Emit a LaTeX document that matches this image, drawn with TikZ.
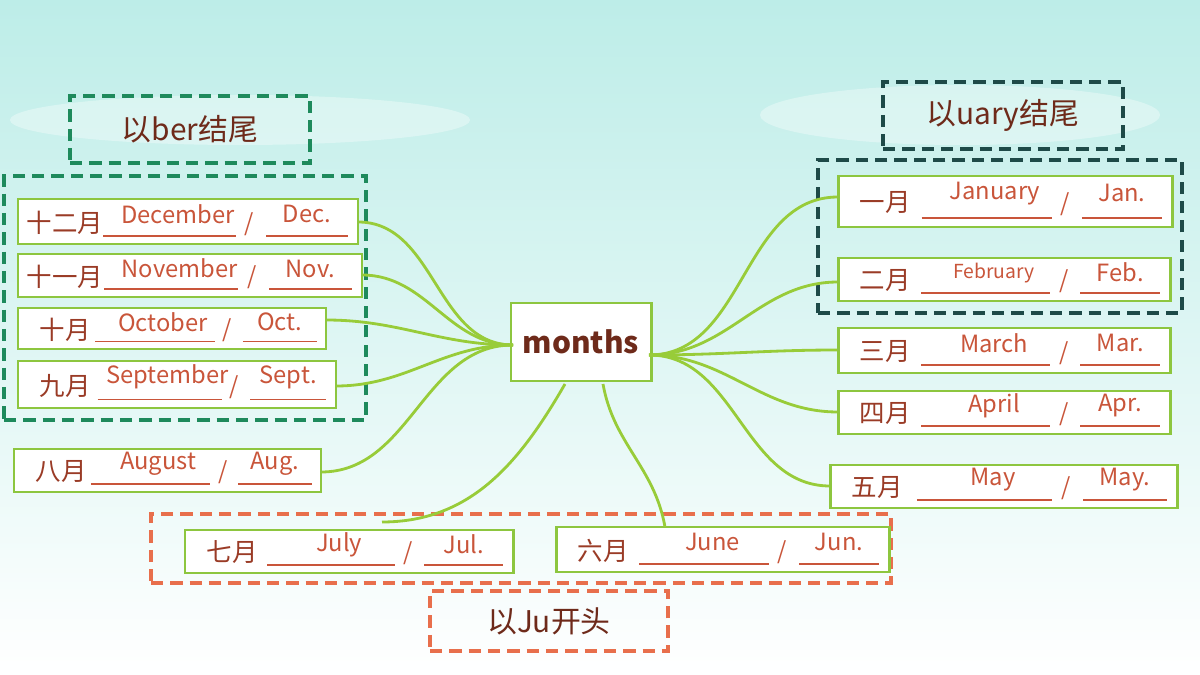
\documentclass[tikz,border=0pt]{standalone}
\usepackage{fontspec}
\setmainfont{Noto Sans CJK SC}
\usetikzlibrary{fit}
\definecolor{boxgreen}{HTML}{8DC63F}
\definecolor{wordred}{HTML}{C9553A}
\definecolor{cnred}{HTML}{9A3B26}
\definecolor{titlebrown}{HTML}{6E2A1A}
\definecolor{grpgreen}{HTML}{1E8A5C}
\definecolor{grpteal}{HTML}{1E4A48}
\definecolor{grporange}{HTML}{E86F4C}
\definecolor{skytop}{HTML}{BDEDE8}
\tikzset{
  mbox/.style={draw=boxgreen, line width=1.7pt, fill=white, inner sep=0pt},
  grp/.style={draw, dashed, line width=2pt, dash pattern=on 7pt off 4pt, inner sep=0pt},
  tag/.style={text=titlebrown, font=\fontsize{17}{19}\selectfont},
  cn/.style={text=cnred, font=\fontsize{14.5}{16}\selectfont},
  word/.style={text=wordred, font=\fontsize{13.5}{15}\selectfont},
  uline/.style={draw=wordred, line width=0.9pt},
  link/.style={draw=boxgreen!90!yellow, line width=1.6pt}
}
% one month row: name, x1, y1, x2, y2, chinese, full, short
\newcommand{\mrow}[8]{%
  \node[mbox, fit={(#2,#3) (#4,#5)}] (#1) {};
  \node[cn] at ({#2+47},{(#3+#5)/2+1}) {#6};
  \node[word] at ({#2+0.47*(#4-#2)},{#3+0.34*(#5-#3)}) {#7};
  \node[word] at ({#2+0.68*(#4-#2)},{#3+0.55*(#5-#3)}) {/};
  \node[word] at ({#2+0.85*(#4-#2)},{#3+0.34*(#5-#3)}) {#8};
  \draw[uline] ({#2+0.25*(#4-#2)},{#3+0.82*(#5-#3)}) -- ({#2+0.64*(#4-#2)},{#3+0.82*(#5-#3)});
  \draw[uline] ({#2+0.73*(#4-#2)},{#3+0.82*(#5-#3)}) -- ({#2+0.97*(#4-#2)},{#3+0.82*(#5-#3)});
}
\begin{document}
\begin{tikzpicture}[x=0.02cm, y=-0.02cm]
  \useasboundingbox (0,0) rectangle (1200,675);
  \shade[top color=skytop, bottom color=white] (0,0) rectangle (1200,675);
  % soft clouds
  \fill[white, opacity=0.35] (240,120) ellipse (230 and 25);
  \fill[white, opacity=0.35] (960,115) ellipse (200 and 30);

  % groups
  \node[grp, draw=grpgreen, fit={(4,176) (366,420)}] (gber) {};
  \node[grp, draw=grpteal, fit={(818,160) (1182,313)}] (guary) {};
  \node[grp, draw=grporange, fit={(151,514) (891,583)}] (gju) {};
  \node[grp, draw=grpgreen, fit={(70,96) (310,163)}] (tber) {};
  \node[tag] at (tber) {以ber结尾};
  \node[grp, draw=grpteal, fit={(883,82) (1123,149)}] (tuary) {};
  \node[tag] at (tuary) {以uary结尾};
  \node[grp, draw=grporange, fit={(430,591) (668,651)}] (tju) {};
  \node[tag] at (tju) {以Ju开头};

  % centre
  \node[mbox, fit={(511,303) (651,381)}] (c) {};
  \node[text=titlebrown, font=\fontsize{17}{19}\selectfont\bfseries] at (c) {months};
  \coordinate (cl) at (513,345);
  \coordinate (cr) at (649,355);
  \coordinate (cb1) at (565,384);
  \coordinate (cb2) at (603,384);
  \coordinate (julin) at (382,522);
  \coordinate (junin) at (665,527);

  % connectors
  \draw[link] (cl) to[out=180,in=0] (358,222);
  \draw[link] (cl) to[out=180,in=0] (362,275);
  \draw[link] (cl) to[out=180,in=0] (326,320);
  \draw[link] (cl) to[out=180,in=0] (336,386);
  \draw[link] (cl) to[out=180,in=0] (321,472);
  \draw[link] (cr) to[out=0,in=180] (838,197);
  \draw[link] (cr) to[out=0,in=180] (838,282);
  \draw[link] (cr) to[out=0,in=180] (838,350);
  \draw[link] (cr) to[out=0,in=180] (838,412);
  \draw[link] (cr) to[out=0,in=180] (830,486);
  \draw[link] (cb1) to[out=240,in=0] (julin);

  % month rows
  \mrow{dec}{18}{199}{358}{244}{十二月}{December}{Dec.}
  \mrow{nov}{18}{254}{362}{297}{十一月}{November}{Nov.}
  \mrow{oct}{18}{308}{326}{349}{十月}{October}{Oct.}
  \mrow{sep}{18}{361}{336}{408}{九月}{September}{Sept.}
  \mrow{aug}{14}{449}{321}{492}{八月}{August}{Aug.}
  \mrow{jan}{838}{176}{1172}{227}{一月}{January}{Jan.}
  \mrow{feb}{838}{258}{1170}{301}{二月}{\fontsize{11}{12}\selectfont February}{Feb.}
  \mrow{mar}{838}{328}{1170}{373}{三月}{March}{Mar.}
  \mrow{apr}{838}{391}{1170}{434}{四月}{April}{Apr.}
  \mrow{may}{830}{465}{1177}{508}{五月}{May}{May.}
  \mrow{jul}{185}{530}{513}{573}{七月}{July}{Jul.}
  \mrow{jun}{556}{527}{889}{572}{六月}{June}{Jun.}
  \draw[link] (cb2) to[out=280,in=100] (junin);
\end{tikzpicture}
\end{document}
